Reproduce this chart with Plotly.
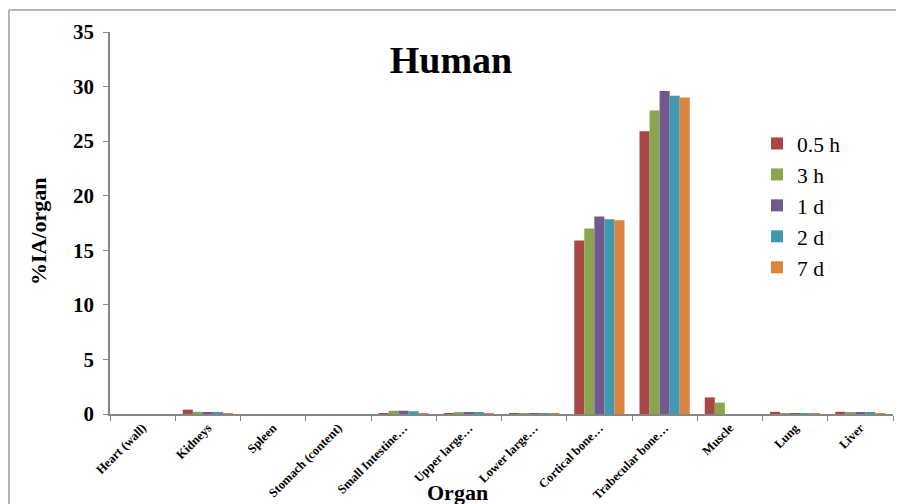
import plotly.graph_objects as go

organs = ["Heart (wall)", "Kidneys", "Spleen", "Stomach (content)", "Small Intestine…",
          "Upper large…", "Lower large…", "Cortical bone…", "Trabecular bone…",
          "Muscle", "Lung", "Liver"]
series_names = ["0.5 h", "3 h", "1 d", "2 d", "7 d"]
v_05h = [0.0, 0.40, 0.0, 0.0, 0.03, 0.02, 0.02, 15.9, 25.9, 1.52, 0.20, 0.20]
v_3h = [0.0, 0.20, 0.0, 0.0, 0.30, 0.15, 0.03, 17.0, 27.8, 1.04, 0.02, 0.15]
v_1d = [0.0, 0.10, 0.0, 0.0, 0.30, 0.15, 0.03, 18.1, 29.6, 0.0, 0.01, 0.15]
v_2d = [0.0, 0.15, 0.0, 0.0, 0.25, 0.10, 0.02, 17.85, 29.15, 0.0, 0.01, 0.10]
v_7d = [0.0, 0.05, 0.0, 0.0, 0.03, 0.02, 0.01, 17.75, 29.0, 0.0, 0.01, 0.05]
colors = ["#AA4643", "#89A54E", "#71588F", "#4198AF", "#DB843D"]
y_ticks = [0, 5, 10, 15, 20, 25, 30, 35]

font_family = "Liberation Serif, Times New Roman, serif"

# page body has an 8px margin: figure offset by 8px so it reaches the window's right/bottom edge
W, H = 896, 496
PL, PR, PT, PB = 110, 893, 32, 414  # plot area in window pixels
PW, PH = PR - PL, PB - PT


def px(xs):
    return (xs - PL) / PW


def py(ys):
    return (PB - ys) / PH


fig = go.Figure()
for name, vals, col in zip(series_names, [v_05h, v_3h, v_1d, v_2d, v_7d], colors):
    fig.add_trace(go.Bar(x=organs, y=vals, name=name, marker_color=col,
                         marker_line_width=0))

fig.update_layout(
    width=W, height=H,
    paper_bgcolor="white", plot_bgcolor="white",
    margin=dict(l=PL - 8, r=W - (PR - 8), t=PT - 8, b=H - (PB - 8)),
    barmode="group", bargap=0.23, bargroupgap=0,
    font=dict(family=font_family, color="black"),
    title=dict(text="<b>Human</b>", x=(451 - 8) / W, xanchor="center", y=1 - 52 / H,
               yanchor="middle", font=dict(size=38, family=font_family, color="black")),
    legend=dict(x=px(757), y=py(123), xanchor="left", yanchor="top",
                font=dict(size=21.5, family=font_family, color="black"), itemwidth=30,
                bgcolor="rgba(0,0,0,0)"),
    showlegend=True,
)
fig.update_xaxes(
    automargin=False,
    showline=True, linecolor="#868686", linewidth=1.5,
    ticks="outside", tickson="boundaries", ticklen=5, tickcolor="#868686",
    tickangle=-45, tickfont=dict(size=12.5, family=font_family, color="black"),
    ticktext=["<b>" + o + "</b>" for o in organs], tickvals=organs,
    showgrid=False,
)
fig.update_yaxes(
    automargin=False,
    range=[0, 35], tickvals=y_ticks, ticktext=["<b>%d</b>" % t for t in y_ticks],
    showline=True, linecolor="#868686", linewidth=1.5,
    ticks="outside", ticklen=5, tickcolor="#868686", ticklabelstandoff=5,
    tickfont=dict(size=21, family=font_family, color="black"),
    showgrid=False, zeroline=False,
)
fig.add_annotation(text="<b>Organ</b>", xref="paper", yref="paper",
                   x=px(457), y=py(493), xanchor="center", yanchor="middle",
                   showarrow=False, font=dict(size=22, family=font_family, color="black"))
fig.add_annotation(text="<b>%IA/organ</b>", xref="paper", yref="paper",
                   x=px(38), y=py(231), xanchor="center", yanchor="middle",
                   textangle=-90, showarrow=False,
                   font=dict(size=22, family=font_family, color="black"))
# chart outer border (top and left edges visible in reference)
fig.add_shape(type="line", xref="paper", yref="paper",
              x0=px(9), x1=1.05, y0=py(10), y1=py(10),
              line=dict(color="#9a9a9a", width=1.5))
fig.add_shape(type="line", xref="paper", yref="paper",
              x0=px(9), x1=px(9), y0=py(10), y1=py(520),
              line=dict(color="#9a9a9a", width=1.5))

fig.write_html("out.html")
